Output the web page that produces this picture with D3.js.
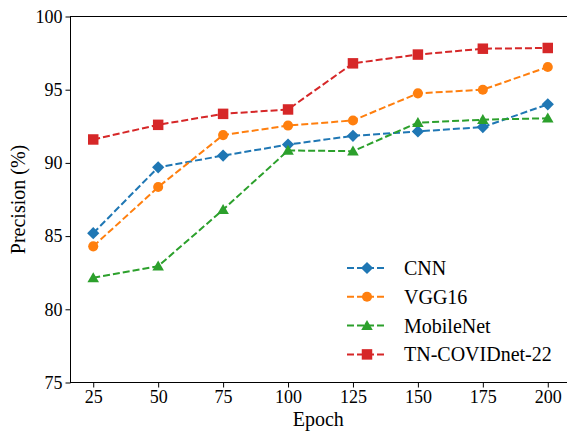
<!DOCTYPE html>
<html>
<head>
<meta charset="utf-8">
<script src="https://cdn.jsdelivr.net/npm/d3@7"></script>
<style>
  html, body { margin: 0; padding: 0; background: #fff; }
  svg { display: block; font-family: "Liberation Serif", "Times New Roman", serif; }
</style>
</head>
<body>
<svg id="chart" width="567" height="433"></svg>
<script>
// epochs on x axis
const epochs = [25, 50, 75, 100, 125, 150, 175, 200];

// precision values (%)
const cnn = [85.2, 89.7, 90.5, 91.25, 91.85, 92.15, 92.45, 94.0];
const vgg16 = [84.3, 88.35, 91.9, 92.55, 92.9, 94.75, 95.0, 96.55];
const mobileNet = [82.15, 82.95, 86.8, 90.85, 90.8, 92.75, 92.95, 93.05];
const tnCovid = [91.6, 92.6, 93.35, 93.65, 96.8, 97.4, 97.8, 97.85];

const yTicks = [75, 80, 85, 90, 95, 100];

const series = [
    { name: "CNN", values: cnn, color: "#1f77b4", marker: "diamond" },
    { name: "VGG16", values: vgg16, color: "#ff7f0e", marker: "circle" },
    { name: "MobileNet", values: mobileNet, color: "#2ca02c", marker: "triangle" },
    { name: "TN-COVIDnet-22", values: tnCovid, color: "#d62728", marker: "square" }
];

const svg = d3.select("#chart");

// axes box (right edge falls just outside the canvas, like the original crop)
const plotL = 70.5, plotR = 570.5, plotT = 16.5, plotB = 382.5;

// matplotlib default 5% margin on x
const pad = (200 - 25) * 0.05;
const x = d3.scaleLinear().domain([25 - pad, 200 + pad]).range([plotL, plotR]);
const y = d3.scaleLinear().domain([75, 100]).range([plotB, plotT]);

const symbolFor = {
    diamond: d3.symbol().type(d3.symbolSquare).size(75),
    circle: d3.symbol().type(d3.symbolCircle).size(80),
    triangle: d3.symbol().type(d3.symbolTriangle).size(58),
    square: d3.symbol().type(d3.symbolSquare).size(110)
};
const rotateFor = { diamond: 45, circle: 0, triangle: 0, square: 0 };
// matplotlib centres '^' on its bounding box, d3 on the centroid
const shiftFor = { diamond: 0, circle: 0, triangle: 1, square: 0 };

// frame
svg.append("rect")
    .attr("x", plotL).attr("y", plotT)
    .attr("width", plotR - plotL).attr("height", plotB - plotT)
    .attr("fill", "none")
    .attr("stroke", "#000")
    .attr("stroke-width", 1);

// x axis
const xAxis = svg.append("g")
    .attr("transform", `translate(0,${plotB})`)
    .call(d3.axisBottom(x).tickValues(epochs).tickSize(5).tickPadding(3));
xAxis.select(".domain").remove();
xAxis.selectAll("text")
    .attr("font-size", 18)
    .attr("font-family", "Liberation Serif, serif")
    .attr("fill", "#000");

// y axis
const yAxis = svg.append("g")
    .attr("transform", `translate(${plotL},0)`)
    .call(d3.axisLeft(y).tickValues(yTicks).tickSize(5).tickPadding(3));
yAxis.select(".domain").remove();
yAxis.selectAll("text")
    .attr("font-size", 18)
    .attr("font-family", "Liberation Serif, serif")
    .attr("fill", "#000");

// axis labels
svg.append("text")
    .attr("x", (plotL + 566) / 2)
    .attr("y", 426)
    .attr("text-anchor", "middle")
    .attr("font-size", 20)
    .text("Epoch");

svg.append("text")
    .attr("transform", `translate(25,${(plotT + plotB) / 2}) rotate(-90)`)
    .attr("text-anchor", "middle")
    .attr("font-size", 20)
    .text("Precision (%)");

// lines + markers
const line = d3.line()
    .x((d, i) => x(epochs[i]))
    .y(d => y(d));

series.forEach(s => {
    svg.append("path")
        .datum(s.values)
        .attr("d", line)
        .attr("fill", "none")
        .attr("stroke", s.color)
        .attr("stroke-width", 2)
        .attr("stroke-dasharray", "7,3");

    svg.append("g")
        .selectAll("path")
        .data(s.values)
        .join("path")
        .attr("d", symbolFor[s.marker])
        .attr("transform", (d, i) => `translate(${x(epochs[i])},${y(d) + shiftFor[s.marker]}) rotate(${rotateFor[s.marker]})`)
        .attr("fill", s.color);
});

// legend
const legend = svg.append("g").attr("transform", "translate(347,268)");
series.forEach((s, i) => {
    const g = legend.append("g").attr("transform", `translate(0,${i * 28.8})`);
    g.append("line")
        .attr("x1", 0).attr("x2", 40)
        .attr("y1", 0).attr("y2", 0)
        .attr("stroke", s.color)
        .attr("stroke-width", 2)
        .attr("stroke-dasharray", "7,3");
    g.append("path")
        .attr("d", symbolFor[s.marker])
        .attr("transform", `translate(20,${shiftFor[s.marker]}) rotate(${rotateFor[s.marker]})`)
        .attr("fill", s.color);
    g.append("text")
        .attr("x", 57)
        .attr("y", 0)
        .attr("dy", "0.35em")
        .attr("font-size", 20)
        .text(s.name);
});
</script>
</body>
</html>
